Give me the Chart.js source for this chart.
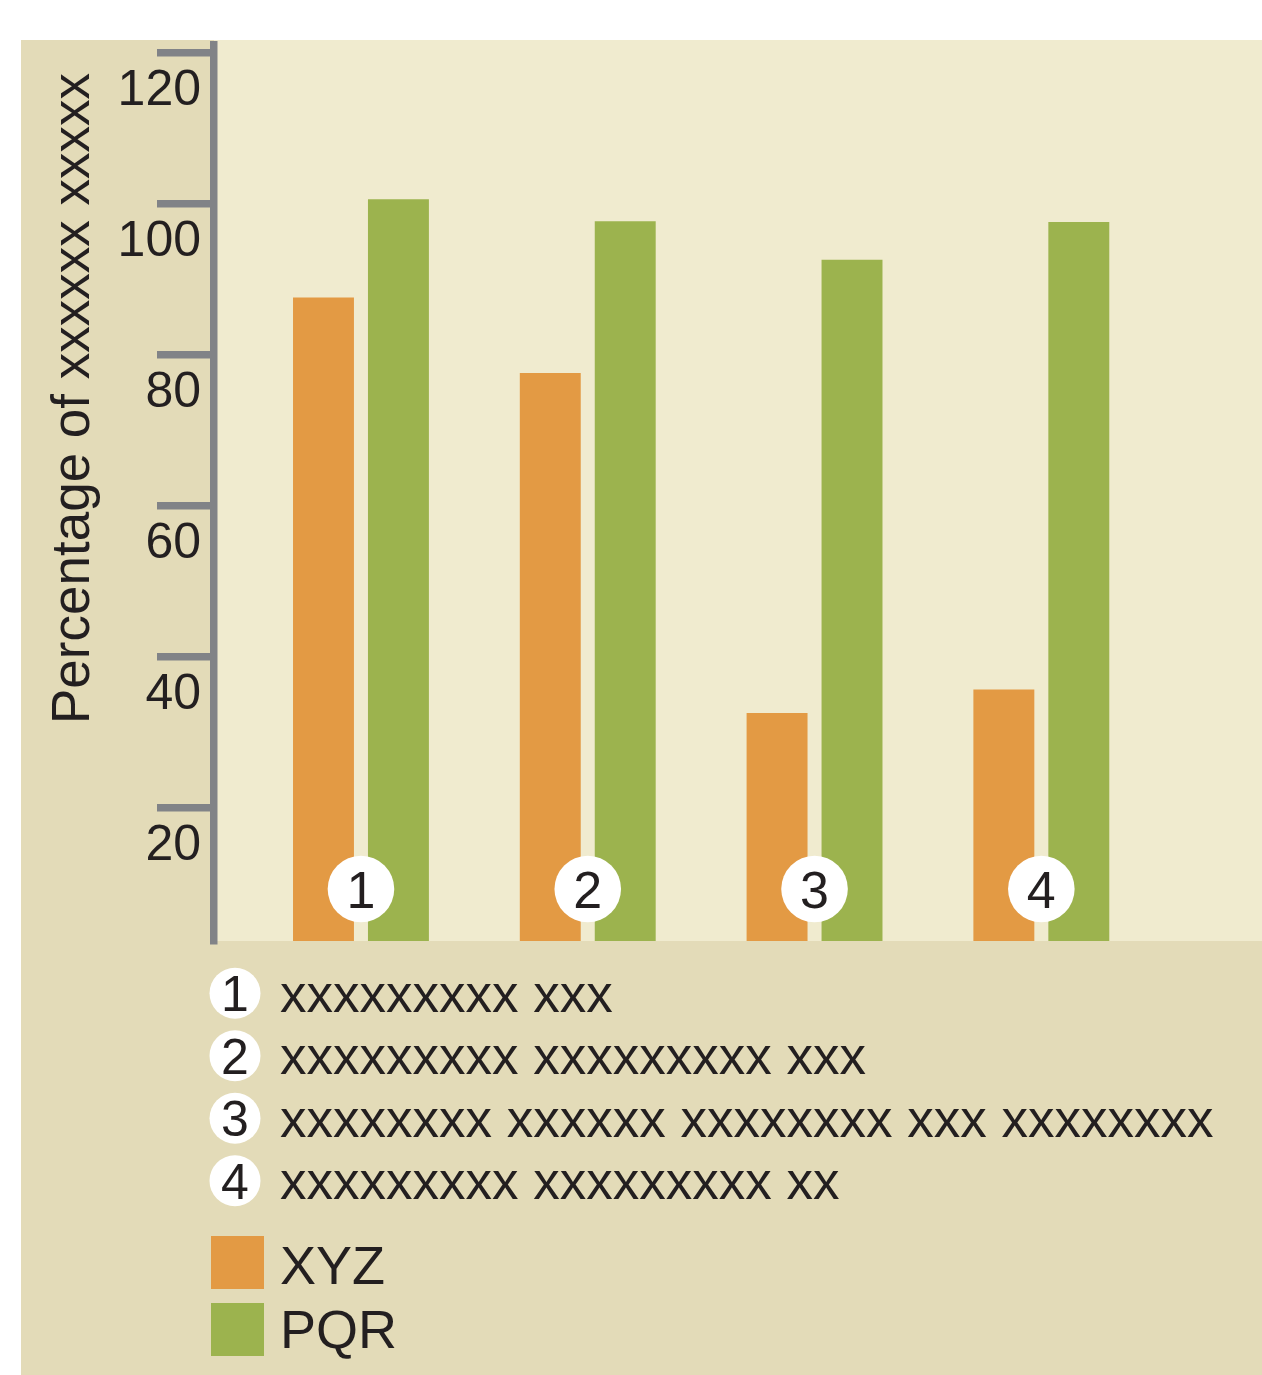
<!DOCTYPE html>
<html>
<head>
<meta charset="utf-8">
<script src="https://cdn.jsdelivr.net/npm/chart.js@4.4.1/dist/chart.umd.min.js"></script>
<style>
  html, body { margin: 0; padding: 0; background: #ffffff; }
  #panel { position: absolute; left: 21px; top: 40px; width: 1241px; height: 1335px; background: #e3dbb8; }
  #chart { position: absolute; left: 0; top: 0; }
</style>
</head>
<body>
<div id="panel"></div>
<canvas id="chart" width="1262" height="1375"></canvas>
<script>
// ---------- Data ----------
const groups = [1, 2, 3, 4];
const seriesNames = ['XYZ', 'PQR'];
const xyzValues = [87.6, 77.6, 32.6, 35.7];
const pqrValues = [100.6, 97.7, 92.6, 97.6];
const yTicks = [20, 40, 60, 80, 100, 120];
const yTitle = 'Percentage of xxxxxx xxxxx';
const notes = [
  'xxxxxxxxx xxx',
  'xxxxxxxxx xxxxxxxxx xxx',
  'xxxxxxxx xxxxxx xxxxxxxx xxx xxxxxxxx',
  'xxxxxxxxx xxxxxxxxx xx'
];

// ---------- Style ----------
const ORANGE = '#e39a44';
const GREEN = '#9cb34e';
const LIGHT_BG = '#f0ebcf';
const AXIS = '#818387';
const INK = '#231f20';
const FONT = '"Liberation Sans", Arial, Helvetica, sans-serif';

function numberBadge(ctx, x, y, r, text, size) {
  ctx.fillStyle = '#ffffff';
  ctx.beginPath();
  ctx.arc(x, y, r, 0, Math.PI * 2);
  ctx.fill();
  ctx.fillStyle = INK;
  ctx.font = `${size}px ${FONT}`;
  ctx.textAlign = 'center';
  ctx.textBaseline = 'alphabetic';
  ctx.fillText(text, x, y + size * 0.358);
}

const decorPlugin = {
  id: 'decor',
  beforeDraw(chart) {
    const { ctx, chartArea: a } = chart;
    ctx.save();
    ctx.fillStyle = LIGHT_BG;
    ctx.fillRect(a.left, 40, a.right - a.left, a.bottom - 40);
    ctx.restore();
  },
  afterDatasetsDraw(chart) {
    const { ctx, chartArea: a } = chart;
    const xs = chart.scales.x;
    ctx.save();
    groups.forEach(g => numberBadge(ctx, xs.getPixelForValue(g), a.bottom - 52, 33.3, String(g), 52));
    ctx.restore();
  },
  afterDraw(chart) {
    const { ctx } = chart;
    ctx.save();

    // y axis title
    ctx.translate(88.7, 398.5);
    ctx.rotate(-Math.PI / 2);
    ctx.fillStyle = INK;
    ctx.font = `53px ${FONT}`;
    ctx.textAlign = 'center';
    ctx.textBaseline = 'alphabetic';
    ctx.fillText(yTitle, 0, 0);
    ctx.setTransform(1, 0, 0, 1, 0, 0);

    // numbered notes
    notes.forEach((note, i) => {
      const cy = 993.3 + i * 62.5;
      numberBadge(ctx, 235, cy, 25.5, String(groups[i]), 50);
      ctx.fillStyle = INK;
      ctx.font = `53px ${FONT}`;
      ctx.textAlign = 'left';
      ctx.fillText(note, 280, cy + 18.5);
    });

    // series legend
    chart.data.datasets.forEach((ds, i) => {
      const top = 1236 + i * 67;
      ctx.fillStyle = ds.backgroundColor;
      ctx.fillRect(211, top, 53, 53);
      ctx.fillStyle = INK;
      ctx.font = `54px ${FONT}`;
      ctx.textAlign = 'left';
      ctx.fillText(ds.label, 280, 1284.3 + i * 64);
    });

    ctx.restore();
  }
};

const toPoints = vals => groups.map((g, i) => ({ x: g, y: vals[i] }));

new Chart(document.getElementById('chart'), {
  type: 'bar',
  data: {
    datasets: [
      { label: seriesNames[0], data: toPoints(xyzValues), backgroundColor: ORANGE },
      { label: seriesNames[1], data: toPoints(pqrValues), backgroundColor: GREEN }
    ]
  },
  options: {
    responsive: false,
    animation: false,
    devicePixelRatio: 1,
    layout: { padding: { top: 44.5, right: 0, bottom: 434, left: 0 } },
    datasets: { bar: { categoryPercentage: 0.661, barPercentage: 0.813 } },
    plugins: { legend: { display: false }, tooltip: { enabled: false } },
    scales: {
      x: {
        type: 'linear',
        display: false,
        offset: false,
        grid: { offset: false },
        min: 0.352,
        max: 4.973,
        afterBuildTicks: s => { s.ticks = groups.map(v => ({ value: v })); }
      },
      y: {
        min: 2.4,
        max: 121.1,
        afterBuildTicks: s => { s.ticks = yTicks.map(v => ({ value: v })); },
        afterFit: s => { s.width = 214; },
        border: { color: AXIS, width: 7.5 },
        grid: { drawOnChartArea: false, drawTicks: true, tickLength: 57, lineWidth: 7.5, tickWidth: 7.5, color: AXIS },
        ticks: { padding: -44, labelOffset: 38, color: INK, font: { family: FONT, size: 50 } }
      }
    }
  },
  plugins: [decorPlugin]
});
</script>
</body>
</html>
